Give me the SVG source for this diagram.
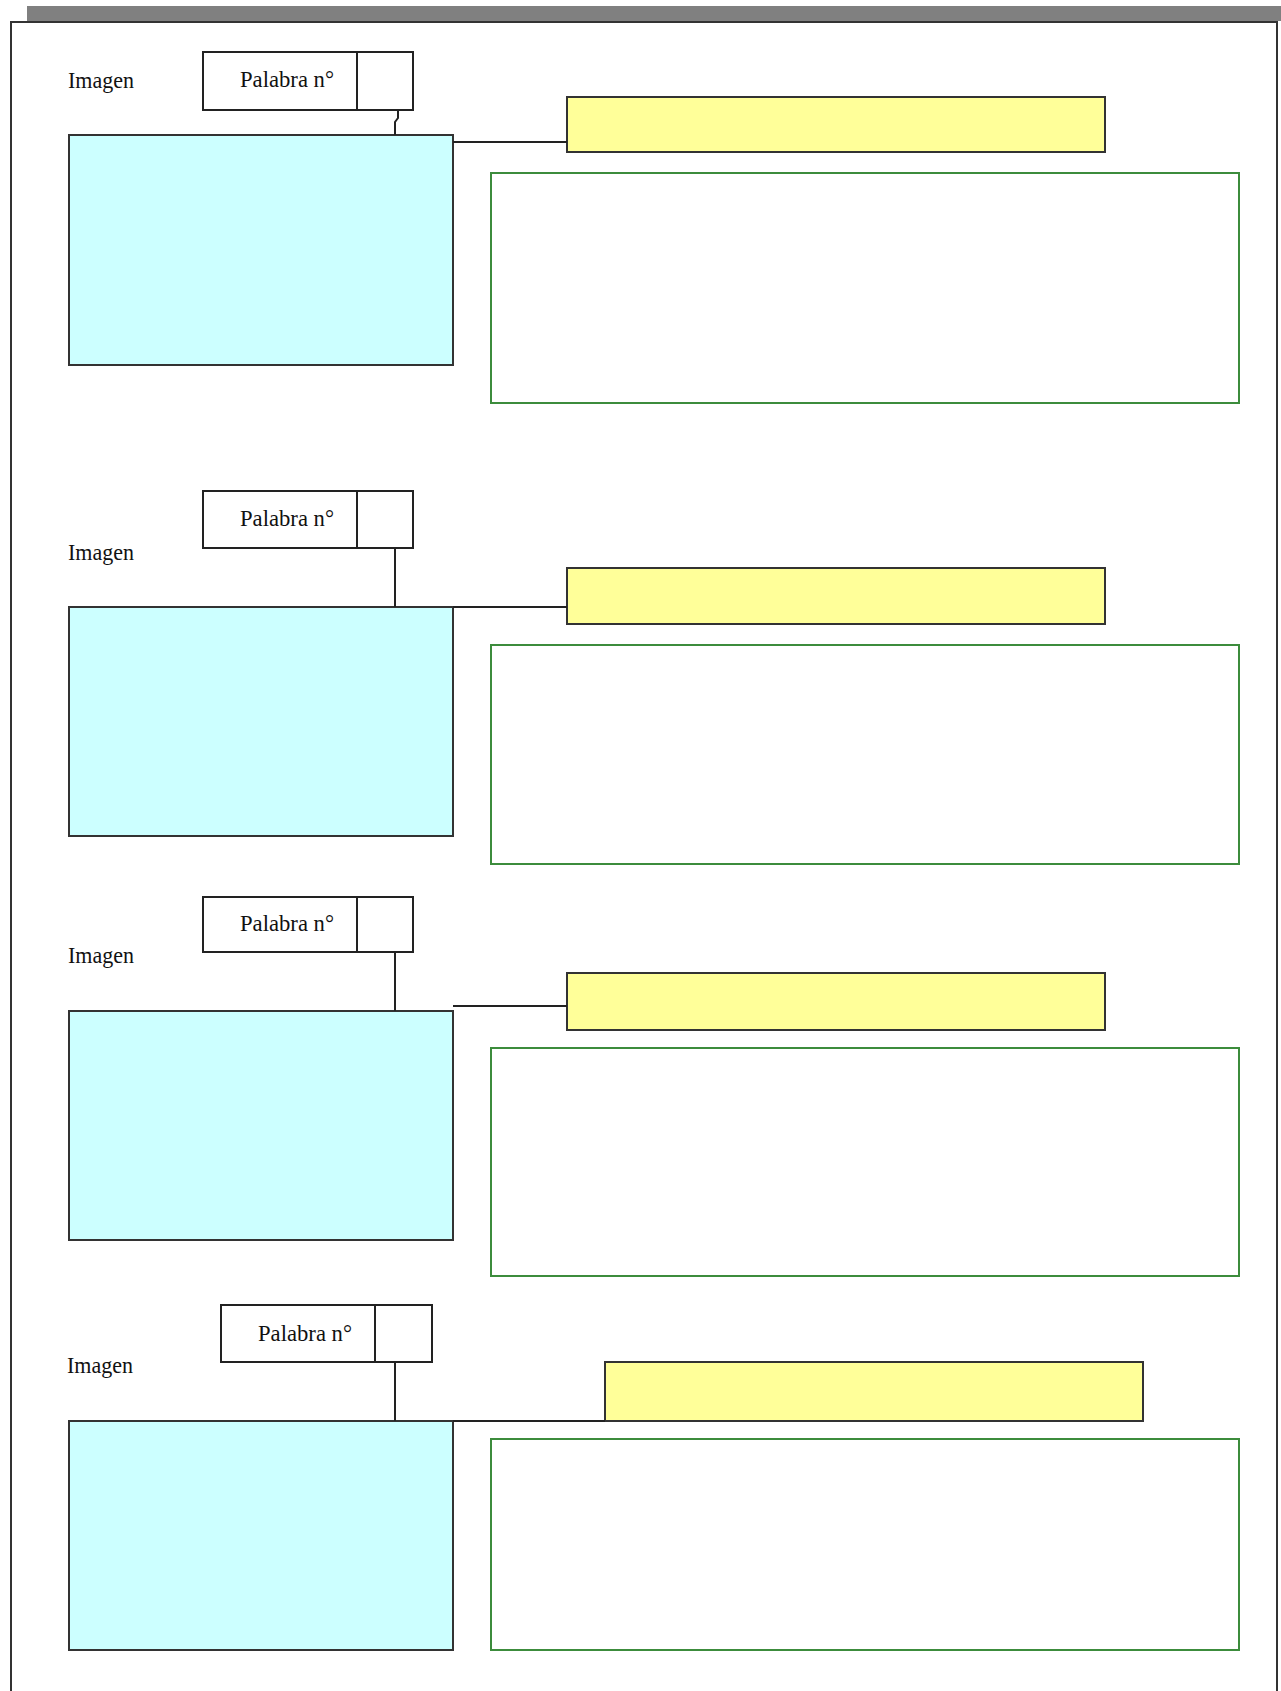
<svg xmlns="http://www.w3.org/2000/svg" width="1281" height="1691" viewBox="0 0 1281 1691">
<style>
.lbl{font-family:"Liberation Serif","Times New Roman",serif;font-size:24px;fill:#111}
.pal{fill:#fff;stroke:#222;stroke-width:2}
.img{fill:#ccffff;stroke:#333;stroke-width:2}
.ttl{fill:#ffff99;stroke:#333;stroke-width:2}
.txt{fill:#fff;stroke:#3c8c3c;stroke-width:2}
.con{fill:none;stroke:#222;stroke-width:2}
</style>
<rect x="0" y="0" width="1281" height="1691" fill="#fff"/>
<rect x="27" y="6" width="1254" height="15" fill="#808080"/>
<path d="M11 1691 V22 H1277 V1691" fill="none" stroke="#333" stroke-width="2"/>

<g id="section1">
<text class="lbl" x="68" y="88" textLength="66" lengthAdjust="spacingAndGlyphs">Imagen</text>
<g id="palabra1"><rect class="pal" x="203" y="52" width="210" height="58"/><line class="con" x1="357" y1="52" x2="357" y2="110"/><text class="lbl" x="240" y="87" textLength="94" lengthAdjust="spacingAndGlyphs">Palabra n°</text></g>
<rect id="imagen1" class="img" x="69" y="135" width="384" height="230"/>
<rect id="titulo1" class="ttl" x="567" y="97" width="538" height="55"/>
<rect id="texto1" class="txt" x="491" y="173" width="748" height="230"/>
</g>

<g id="section2">
<text class="lbl" x="68" y="560" textLength="66" lengthAdjust="spacingAndGlyphs">Imagen</text>
<g id="palabra2"><rect class="pal" x="203" y="491" width="210" height="57"/><line class="con" x1="357" y1="491" x2="357" y2="548"/><text class="lbl" x="240" y="526" textLength="94" lengthAdjust="spacingAndGlyphs">Palabra n°</text></g>
<rect id="imagen2" class="img" x="69" y="607" width="384" height="229"/>
<rect id="titulo2" class="ttl" x="567" y="568" width="538" height="56"/>
<rect id="texto2" class="txt" x="491" y="645" width="748" height="219"/>
</g>

<g id="section3">
<text class="lbl" x="68" y="963" textLength="66" lengthAdjust="spacingAndGlyphs">Imagen</text>
<g id="palabra3"><rect class="pal" x="203" y="897" width="210" height="55"/><line class="con" x1="357" y1="897" x2="357" y2="952"/><text class="lbl" x="240" y="931" textLength="94" lengthAdjust="spacingAndGlyphs">Palabra n°</text></g>
<rect id="imagen3" class="img" x="69" y="1011" width="384" height="229"/>
<rect id="titulo3" class="ttl" x="567" y="973" width="538" height="57"/>
<rect id="texto3" class="txt" x="491" y="1048" width="748" height="228"/>
</g>

<g id="section4">
<text class="lbl" x="67" y="1373" textLength="66" lengthAdjust="spacingAndGlyphs">Imagen</text>
<g id="palabra4"><rect class="pal" x="221" y="1305" width="211" height="57"/><line class="con" x1="375" y1="1305" x2="375" y2="1362"/><text class="lbl" x="258" y="1341" textLength="94" lengthAdjust="spacingAndGlyphs">Palabra n°</text></g>
<rect id="imagen4" class="img" x="69" y="1421" width="384" height="229"/>
<rect id="titulo4" class="ttl" x="605" y="1362" width="538" height="59"/>
<rect id="texto4" class="txt" x="491" y="1439" width="748" height="211"/>
</g>

<g id="connectors">
<polyline class="con" points="395,135 395,122 398,118 398,110"/>
<line class="con" x1="453" y1="142" x2="567" y2="142"/>
<line class="con" x1="395" y1="548" x2="395" y2="607"/>
<line class="con" x1="453" y1="607" x2="567" y2="607"/>
<line class="con" x1="395" y1="952" x2="395" y2="1011"/>
<line class="con" x1="453" y1="1006" x2="567" y2="1006"/>
<line class="con" x1="395" y1="1362" x2="395" y2="1421"/>
<line class="con" x1="453" y1="1421" x2="605" y2="1421"/>
</g>
</svg>
